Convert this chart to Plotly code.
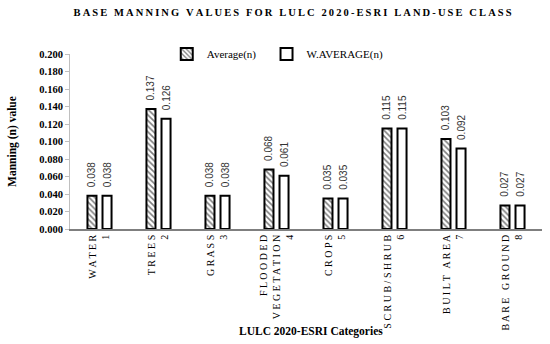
import plotly.graph_objects as go

categories = ["WATER<br>1", "TREES<br>2", "GRASS<br>3", "FLOODED<br>VEGETATION<br>4",
              "CROPS<br>5", "SCRUB/SHRUB<br>6", "BUILT AREA<br>7", "BARE GROUND<br>8"]
average_n = [0.038, 0.137, 0.038, 0.068, 0.035, 0.115, 0.103, 0.027]
w_average_n = [0.038, 0.126, 0.038, 0.061, 0.035, 0.115, 0.092, 0.027]
y_ticks = [0.0, 0.02, 0.04, 0.06, 0.08, 0.10, 0.12, 0.14, 0.16, 0.18, 0.20]


def spaced(s, sep="\u2009"):
    out = []
    for line in s.split("<br>"):
        out.append(sep.join(list(line)))
    return "<br>".join(out)


cat_labels = [spaced(c, " ") for c in categories]
x_idx = list(range(len(categories)))

SERIF = "Liberation Serif"
SANS = "Liberation Sans"

fig = go.Figure()
fig.add_trace(go.Bar(
    x=x_idx, y=average_n, name="Average(n)" + "\u00a0" * 2,
    marker=dict(color="white", line=dict(color="black", width=2),
                pattern=dict(shape="\\", fgcolor="black", bgcolor="white", size=4, solidity=0.4)),
    text=["\u00a0\u00a0" + f"{v:.3f}" for v in average_n], textposition="outside", textangle=-90,
    textfont=dict(family=SANS, size=10, color="#333"), cliponaxis=False,
))
fig.add_trace(go.Bar(
    x=x_idx, y=w_average_n, name="W.AVERAGE(n)",
    marker=dict(color="white", line=dict(color="black", width=2)),
    text=["\u00a0\u00a0" + f"{v:.3f}" for v in w_average_n], textposition="outside", textangle=-90,
    textfont=dict(family=SANS, size=10, color="#333"), cliponaxis=False,
))

title = spaced("BASE MANNING VALUES FOR LULC 2020-ESRI LAND-USE CLASS", "\u2009")

fig.update_layout(
    width=550, height=344,
    margin=dict(l=70, r=8, t=54, b=115, autoexpand=False),
    paper_bgcolor="white", plot_bgcolor="white",
    barmode="group", bargap=0.49, bargroupgap=0.4,
    title=dict(text="<b>" + title + "</b>", x=0.532, xanchor="center", y=0.965, yanchor="middle",
               font=dict(family=SERIF, size=10.5, color="black")),
    legend=dict(orientation="h", x=0.205, y=1.0, xanchor="left", yanchor="middle",
                font=dict(family=SERIF, size=11, color="black"), bgcolor="rgba(0,0,0,0)",
                itemwidth=30),
    uniformtext=dict(minsize=8, mode="show"),
    xaxis=dict(
        tickmode="array", tickvals=x_idx, ticktext=cat_labels, tickangle=-90,
        tickfont=dict(family=SERIF, size=10, color="black"),
        range=[-0.5, len(categories) - 0.5], automargin=False, ticklabeloverflow="allow",
        showline=True, linecolor="#7f7f7f", linewidth=1.5, ticks="", showgrid=False,
    ),
    yaxis=dict(
        range=[0, 0.2], tickvals=y_ticks, tickformat=".3f", automargin=False,
        tickfont=dict(family=SERIF, size=10.5, color="black", weight="bold"),
        showline=True, linecolor="#bfbfbf", linewidth=1, ticks="outside", ticklen=4, tickcolor="#bfbfbf",
        showgrid=False, zeroline=False,
    ),
    annotations=[
        dict(text="<b>Manning (n) value</b>", xref="paper", yref="paper", x=-0.122, y=0.5,
             xanchor="center", yanchor="middle", textangle=-90, showarrow=False,
             font=dict(family=SERIF, size=11.5, color="black")),
        dict(text="<b>LULC 2020-ESRI Categories</b>", xref="paper", yref="paper", x=0.51, y=-0.585,
             xanchor="center", yanchor="middle", showarrow=False,
             font=dict(family=SERIF, size=11.5, color="black")),
    ],
)

fig.write_html("out.html", config={"displayModeBar": False},
               post_script="document.body.style.margin='0px';")
